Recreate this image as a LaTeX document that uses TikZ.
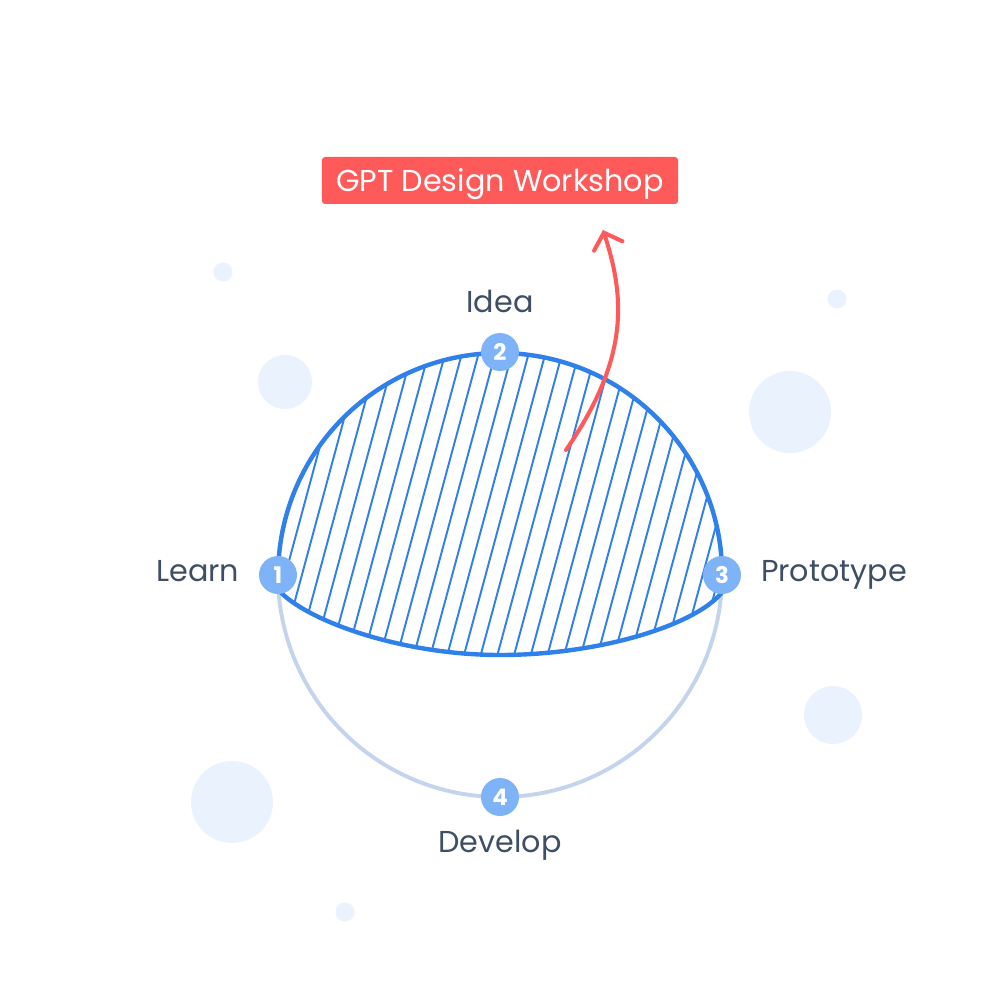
\documentclass[tikz,border=0pt]{standalone}
\usepackage{fontspec}
\setmainfont{Poppins}
\usetikzlibrary{positioning,arrows.meta}

\definecolor{inkblue}{HTML}{2F80EA}
\definecolor{ringgray}{HTML}{C3D4EC}
\definecolor{badgeblue}{HTML}{7FB3F7}
\definecolor{dotblue}{HTML}{EAF2FD}
\definecolor{textslate}{HTML}{3E4F65}
\definecolor{workred}{HTML}{FF5A5A}

% outline of the hatched cap
\def\dome{(-221.5,-15) .. controls (-195,-45) and (-100,-80) .. (0,-80)
  .. controls (100,-80) and (195,-50) .. (221.4,-18)
  arc[start angle=-4.65, end angle=183.9, radius=222] -- cycle}

\begin{document}
\begin{tikzpicture}[x=0.2mm, y=0.2mm,
                    dot/.style={fill=dotblue, draw=none},
                    badge/.style={circle, fill=badgeblue, text=white, minimum size=0.76cm,
                                  inner sep=0pt, font=\fontsize{13}{14}\selectfont\bfseries},
                    lbl/.style={text=textslate, inner sep=0pt, text height=12pt, text depth=0pt,
                                font=\fontsize{17.2}{19}\selectfont},
                    hatch/.style={draw=inkblue, line width=1.1pt},
                    rim/.style={draw=inkblue, line width=2.5pt, line join=round}
                ]
    \useasboundingbox[fill=white] (-500,-426) rectangle (500,575);

    % background dots
    \fill[dot] (-277,303) circle[radius=9.5];
    \fill[dot] (-215,193) circle[radius=27];
    \fill[dot] (337,276) circle[radius=9.5];
    \fill[dot] (290,163) circle[radius=41];
    \fill[dot] (333,-140) circle[radius=29];
    \fill[dot] (-268,-227) circle[radius=41];
    \fill[dot] (-155,-337) circle[radius=9.5];

    % cycle ring
    \draw[ringgray, line width=2.2pt] (0,0) circle[radius=222];

    % hatched cap
    \begin{scope}
        \clip \dome;
        \foreach \k in {-20,...,20}
            \draw[hatch] ({2.3+16.7*\k-27},-100) -- ({2.3+16.7*\k+64.8},240);
    \end{scope}
    \draw[rim] \dome;

    % arrow up to the workshop
    \coordinate (tail) at (66,125);
    \coordinate (tip) at (103,345);
    \draw[workred, line width=2.3pt, line cap=round,
          -{Straight Barb[length=8pt, width=17pt, line cap=round]}]
        (tail) .. controls (128,215) and (126,275) .. (tip);

    % stages
    \node[badge] (b1) at (-222,0) {1};
    \node[badge] (b2) at (0,223) {2};
    \node[badge] (b3) at (222,0) {3};
    \node[badge] (b4) at (0,-222) {4};

    \node[lbl, left=0.38cm of b1, yshift=0.08cm] (learn) {Learn};
    \node[lbl, above=0.4cm of b2] (idea) {Idea};
    \node[lbl, right=0.39cm of b3, yshift=0.08cm] (proto) {Prototype};
    \node[lbl, below=0.3cm of b4] (develop) {Develop};

    % title
    \node[fill=workred, text=white, rounded corners=1.7pt, minimum width=7.12cm,
          minimum height=0.94cm, inner sep=0pt, text height=12pt, text depth=0pt,
          font=\fontsize{17.2}{19}\selectfont]
        (title) at (0,394.5) {GPT Design Workshop};
\end{tikzpicture}
\end{document}
